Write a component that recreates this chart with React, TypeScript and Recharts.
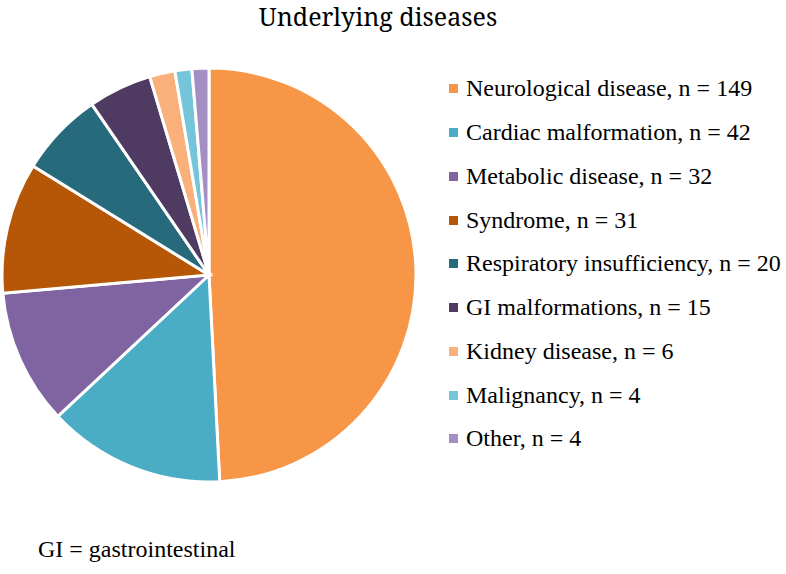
import React from "react";
import { PieChart, Pie, Cell, Legend } from "recharts";

const categories = [
  "Neurological disease",
  "Cardiac malformation",
  "Metabolic disease",
  "Syndrome",
  "Respiratory insufficiency",
  "GI malformations",
  "Kidney disease",
  "Malignancy",
  "Other",
];
const counts = [149, 42, 32, 31, 20, 15, 6, 4, 4];
const colors = [
  "#F79646",
  "#4BACC6",
  "#8064A2",
  "#B65708",
  "#276A7C",
  "#4F3B62",
  "#FAB07B",
  "#74C4DA",
  "#A38FC3",
];

const data = categories.map((name, i) => ({ name, value: counts[i] }));

const FONT = "Liberation Serif";

const LegendContent = () => (
  <div style={{ fontFamily: FONT, fontSize: 24, color: "#000" }}>
    {data.map((d, i) => (
      <div
        key={d.name}
        style={{ height: 43.75, display: "flex", alignItems: "center", whiteSpace: "nowrap" }}
      >
        <span
          style={{
            display: "inline-block",
            width: 9,
            height: 9,
            background: colors[i],
            marginRight: 8,
          }}
        />
        <span>{`${d.name}, n = ${d.value}`}</span>
      </div>
    ))}
  </div>
);

export default function App() {
  return (
    <div style={{ position: "absolute", left: 0, top: 0, width: 786, height: 574, background: "#fff" }}>
      <div
        style={{
          position: "absolute",
          left: 0,
          width: 756,
          top: 1,
          textAlign: "center",
          fontFamily: "Noto Serif",
          fontSize: 25,
          lineHeight: "30px",
        }}
      >
        Underlying diseases
      </div>
      <PieChart
        width={786}
        height={574}
        margin={{ top: 0, right: 0, bottom: 0, left: 0 }}
        style={{ position: "absolute", left: 0, top: 0 }}
      >
        <Pie
          data={data}
          dataKey="value"
          nameKey="name"
          cx={209}
          cy={275}
          outerRadius={207}
          startAngle={90}
          endAngle={-270}
          stroke="#fff"
          strokeWidth={3}
          isAnimationActive={false}
        >
          {data.map((d, i) => (
            <Cell key={d.name} fill={colors[i]} />
          ))}
        </Pie>
        <Legend
          layout="vertical"
          align="right"
          verticalAlign="top"
          content={<LegendContent />}
          wrapperStyle={{ left: 449, top: 67, width: 337 }}
        />
      </PieChart>
      <div
        style={{
          position: "absolute",
          left: 38,
          top: 536,
          fontFamily: FONT,
          fontSize: 24,
          lineHeight: "26px",
        }}
      >
        GI = gastrointestinal
      </div>
    </div>
  );
}
